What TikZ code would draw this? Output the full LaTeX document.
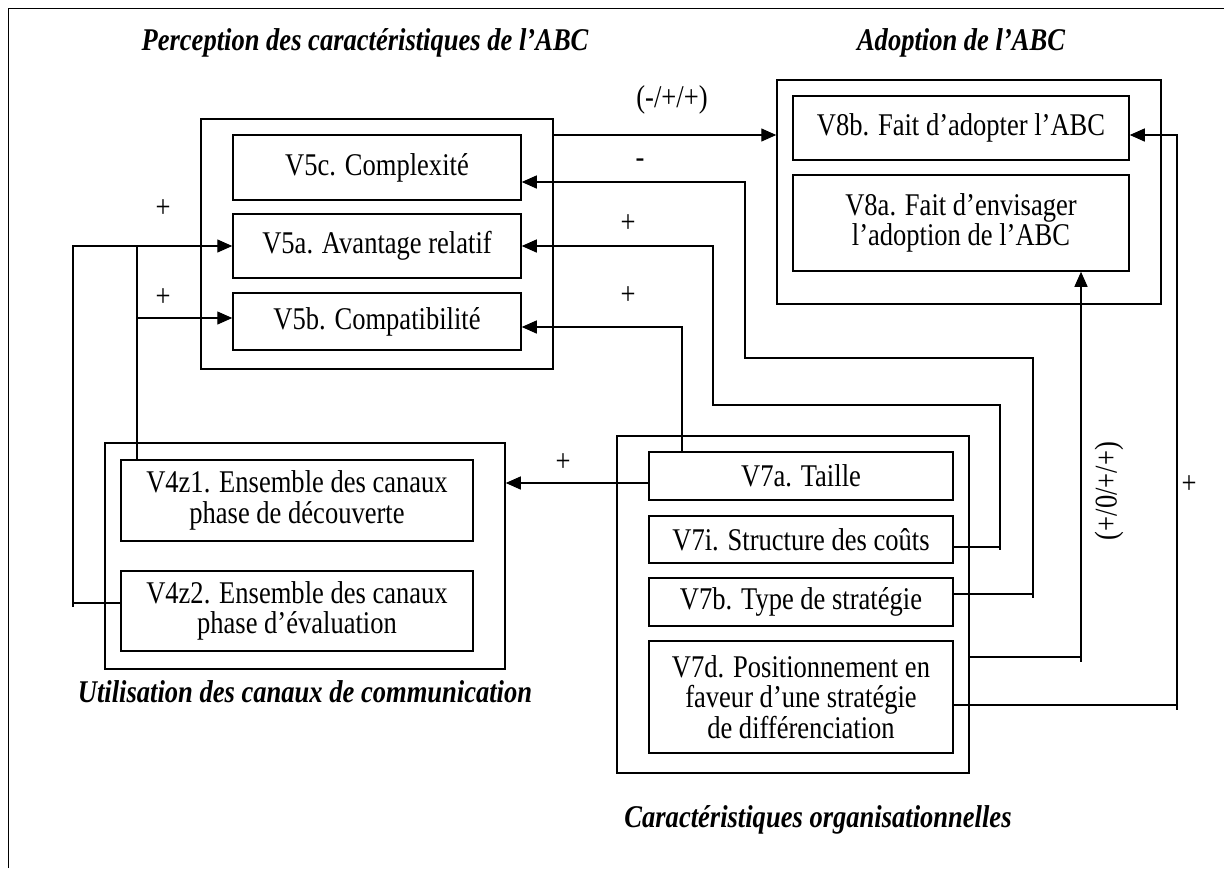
\documentclass[tikz,border=0pt]{standalone}
\usepackage{fontspec}
\setmainfont{Liberation Serif}[FakeStretch=0.84]
\usetikzlibrary{arrows.meta}
\newcommand\fsz{\fontsize{31.6}{30.5}\selectfont}
\tikzset{
  box/.style={draw, line width=1.5pt, inner sep=0pt, align=center, font=\fsz},
  grp/.style={draw, line width=1.5pt, inner sep=0pt},
  arr/.style={-{Triangle[length=15pt,width=13pt]}, line width=1.3pt},
  ln/.style={line width=1.3pt},
  ttl/.style={font=\fsz\bfseries\itshape, inner sep=0pt},
  lbl/.style={font=\fsz, inner sep=0pt}
}
\begin{document}
\begin{tikzpicture}[x=1pt,y=-1pt]
\useasboundingbox (0,0) rectangle (1224,868);
\fill[white] (0,0) rectangle (1224,868);
% outer frame (only top and left visible)
\draw[line width=1.8pt] (8.5,868) -- (8.5,8.5) -- (1224,8.5);

% titles
\node[ttl] (tperc) at (365,43) {Perception des caractéristiques de l’ABC};
\node[ttl] (tadop) at (961,43) {Adoption de l’ABC};
\node[ttl] (tutil) at (305,692) {Utilisation des canaux de communication};
\node[ttl] (torg) at (818,820) {Caractéristiques organisationnelles};

% groups
\node[grp, minimum width=352pt, minimum height=250pt] (perc) at (377,244) {};
\node[grp, minimum width=384pt, minimum height=224pt] (adop) at (969,192) {};
\node[grp, minimum width=400pt, minimum height=226pt] (util) at (305,556) {};
\node[grp, minimum width=352pt, minimum height=337pt] (org) at (793,604.5) {};

% perception boxes
\node[box, minimum width=288pt, minimum height=65pt] (v5c) at (377,167.5) {V5c. Complexité};
\node[box, minimum width=288pt, minimum height=64pt] (v5a) at (377,246) {V5a. Avantage relatif};
\node[box, minimum width=288pt, minimum height=57pt] (v5b) at (377,321.5) {V5b. Compatibilité};

% adoption boxes
\node[box, minimum width=336pt, minimum height=64pt] (v8b) at (961,128) {V8b. Fait d’adopter l’ABC};
\node[box, minimum width=336pt, minimum height=96pt] (v8a) at (961,223) {V8a. Fait d’envisager\\l’adoption de l’ABC};

% communication boxes
\node[box, minimum width=352pt, minimum height=81pt] (v4z1) at (297,500.5) {V4z1. Ensemble des canaux\\phase de découverte};
\node[box, minimum width=352pt, minimum height=80pt] (v4z2) at (297,611) {V4z2. Ensemble des canaux\\phase d’évaluation};

% organisational boxes
\node[box, minimum width=304pt, minimum height=48pt] (v7a) at (801,476) {V7a. Taille};
\node[box, minimum width=304pt, minimum height=47pt] (v7i) at (801,539.5) {V7i. Structure des coûts};
\node[box, minimum width=304pt, minimum height=48pt] (v7b) at (801,602) {V7b. Type de stratégie};
\node[box, minimum width=304pt, minimum height=112pt] (v7d) at (801,697) {V7d. Positionnement en\\faveur d’une stratégie\\de différenciation};

% connectors
\draw[arr] (perc.east |- 0,135) -- (adop.west |- 0,135);
% V7b -> V5c
\draw[arr] (v7b.east |- 0,594) -- (1033,594) -- (1033,358) -- (745,358) -- (745,182) -- (v5c.east |- 0,182);
\draw[ln] (1033,594) -- (1033,598);
% V7i -> V5a
\draw[arr] (v7i.east |- 0,547) -- (1000,547) -- (1000,405) -- (713,405) -- (713,246) -- (v5a.east);
\draw[ln] (1000,547) -- (1000,550);
% V7a -> V5b
\draw[arr] (v7a.north -| 682,0) -- (682,327) -- (v5b.east |- 0,327);
% V7a -> util
\draw[arr] (v7a.west |- 0,483) -- (util.east |- 0,483);
% V4z1 -> V5a, V5b
\draw[ln] (v4z1.north -| 137,0) -- (137,246);
\draw[arr] (137,318) -- (v5b.west |- 0,318);
% V4z2 -> V5a
\draw[arr] (v4z2.west |- 0,603) -- (73,603) -- (73,246) -- (v5a.west);
\draw[ln] (73,603) -- (73,607);
% org -> V8a
\draw[arr] (org.east |- 0,657) -- (1081,657) -- (v8a.south -| 1081,0);
\draw[ln] (1081,657) -- (1081,662);
% V7d -> V8b
\draw[arr] (v7d.east |- 0,705) -- (1177,705) -- (1177,135) -- (v8b.east |- 0,135);
\draw[ln] (1177,705) -- (1177,710);

% labels
\node[lbl] (l1) at (672,100) {(-/+/+)};
\node[lbl] (l2) at (640,163) {-};
\node[lbl] (l3) at (628,224) {+};
\node[lbl] (l4) at (628,296) {+};
\node[lbl] (l5) at (163,209) {+};
\node[lbl] (l6) at (163,298) {+};
\node[lbl] (l7) at (563,463) {+};
\node[lbl, rotate=90] (l8) at (1109,491) {(+/0/+/+)};
\node[lbl] (l9) at (1189,485) {+};
\end{tikzpicture}
\end{document}
